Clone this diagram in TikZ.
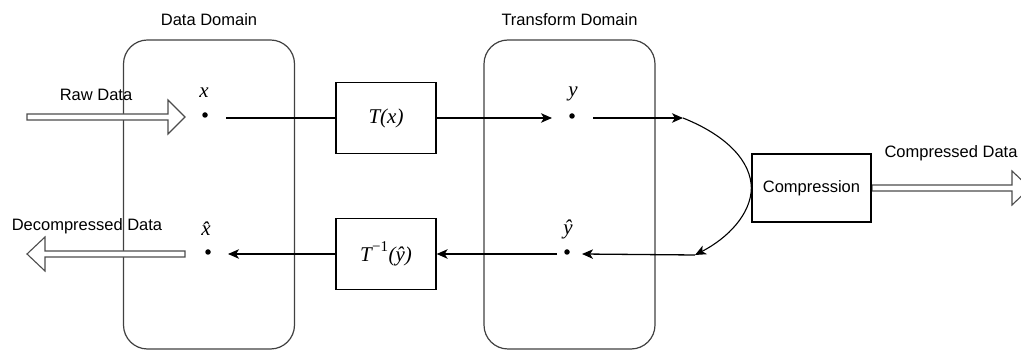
\documentclass[tikz,border=0pt]{standalone}
\usepackage{fontspec}
\setmainfont{Liberation Sans}
\newfontfamily\symfont{Liberation Serif}
\usetikzlibrary{arrows.meta}

% italic serif symbols for the signal names
\newcommand{\sym}[1]{{\symfont\itshape #1}}
\newcommand{\supinv}{\kern0.5pt\raisebox{0.45em}{\fontsize{15}{15}\selectfont\symfont\upshape −1}\kern0.5pt}

\begin{document}
\begin{tikzpicture}[x=1pt,y=-1pt,
  domainbox/.style={draw=black!75, line width=1.2pt, rounded corners=24pt,
    minimum width=171pt, minimum height=309pt, inner sep=0pt},
  procbox/.style={draw, line width=1.3pt, minimum width=100pt,
    minimum height=71pt, inner sep=0pt},
  pt/.style={circle, fill, inner sep=0pt, minimum size=5.5pt},
  wire/.style={line width=1.3pt},
  conn/.style={wire, -{Stealth[length=11pt,width=9.5pt,inset=3pt]}},
  lbl/.style={font=\fontsize{16.5}{20}\selectfont, inner sep=0pt},
  mlbl/.style={font=\fontsize{21}{24}\selectfont, inner sep=0pt},
  hollow/.style={draw=black!70, line width=1.1pt, fill=white, line join=miter}
]
\useasboundingbox (0,0) rectangle (1021,352);

% domains
\node[domainbox] (dd) at (209,194.5) {};
\node[domainbox] (td) at (569.5,194.5) {};
\node[lbl] (ddt) at (209,20) {Data Domain};
\node[lbl] (tdt) at (569.5,20) {Transform Domain};

% hollow data-flow arrows
\draw[hollow] (27,114) -- (168,114) -- (168,100) -- (185,117) -- (168,134)
  -- (168,120) -- (27,120) -- cycle;
\draw[hollow] (185,251) -- (45,251) -- (45,237) -- (27,254) -- (45,271)
  -- (45,257) -- (185,257) -- cycle;
\draw[hollow] (872,185) -- (1012,185) -- (1012,171) -- (1030,188)
  -- (1012,205) -- (1012,191) -- (872,191) -- cycle;
\node[lbl] (raw) at (96,95) {Raw Data};
\node[lbl] (dec) at (87,226) {Decompressed Data};
\node[lbl] (cpd) at (951,153) {Compressed Data};

% processing blocks
\node[procbox, mlbl] (Tx) at (386,118) {\sym{T}\sym{(x)}};
\node[procbox, mlbl] (Ti) at (386,254) {\sym{T}\supinv\sym{(\^{y})}};
\node[procbox, minimum width=119pt, minimum height=68pt, lbl] (cmp)
  at (811.5,188) {Compression};

% sample points
\node[pt] (px) at (205,115) {};
\node[pt] (py) at (572,116) {};
\node[pt] (pyh) at (567,252) {};
\node[pt] (pxh) at (208,252) {};
\node[mlbl] (lx) at (204,93) {\sym{x}};
\node[mlbl] (ly) at (573,94) {\sym{y}};
\node[mlbl] (lxh) at (206,229) {\sym{\^{x}}};
\node[mlbl] (lyh) at (568,229) {\sym{\^{y}}};

% connector ends
\coordinate (xout) at (226,118);
\coordinate (yin) at (552,118);
\coordinate (yout) at (593,118);
\coordinate (cup) at (683,118);
\coordinate (clow) at (695,255);
\coordinate (yhin) at (582,254);
\coordinate (yhout) at (557,254);
\coordinate (xhin) at (228,254);

% forward path
\draw[wire] (xout) -- (Tx);
\draw[conn] (Tx) -- (yin);
\draw[conn] (yout) -- (cup);
\draw[wire, line width=1.1pt] (cup) .. controls (728,136) and (751,162) .. (cmp.west);
\draw[conn, line width=1.1pt] (cmp.west) .. controls (751,214) and (728,238) .. (clow);

% inverse path
\draw[conn] (clow) -- (yhin);
\draw[conn] (yhout) -- (Ti);
\draw[conn] (Ti) -- (xhin);
\end{tikzpicture}
\end{document}
